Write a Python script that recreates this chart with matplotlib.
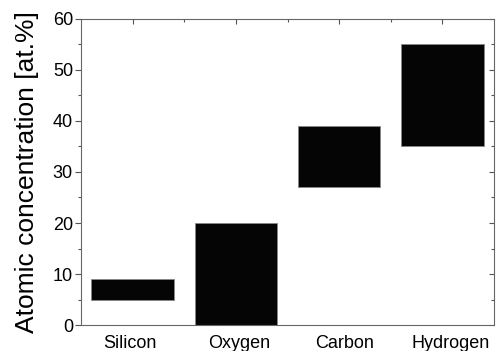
import matplotlib
matplotlib.use("Agg")
import matplotlib.pyplot as plt
import matplotlib.transforms as mtransforms
from matplotlib.ticker import MultipleLocator, FixedLocator

plt.rcParams['font.family'] = ['Liberation Sans', 'DejaVu Sans']

categories = ["Silicon", "Oxygen", "Carbon", "Hydrogen"]
low = [5, 0, 27, 35]
high = [9, 20, 39, 55]
label_shift_px = [-3, 3, 5.5, 8.5]

fig = plt.figure(figsize=(4.97, 3.51), dpi=100)
ax = fig.add_axes([0.163, 0.074, 0.831, 0.872])

x = list(range(len(categories)))
heights = [h - l for h, l in zip(high, low)]
ax.bar(x, heights, bottom=low, width=0.8, color="#050505", edgecolor="#888888", linewidth=0.6)

ax.set_xlim(-0.5, 3.5)
ax.set_ylim(0, 60)
ax.set_xticks(x)
ax.set_xticklabels(categories, fontsize=13)
ax.yaxis.set_major_locator(MultipleLocator(10))
ax.yaxis.set_minor_locator(MultipleLocator(5))
ax.xaxis.set_minor_locator(FixedLocator([0.5, 1.5, 2.5]))
ax.tick_params(axis='y', which='major', labelsize=13, direction='out', length=4.3, width=0.8,
               right=True, color='#555555', pad=1.5)
ax.tick_params(axis='y', which='minor', direction='out', length=2.2, width=0.8, right=True, color='#555555')
for t in ax.yaxis.get_major_ticks():
    t.tick2line.set_marker(0)
    t.tick2line.set_markersize(3.6)
for t in ax.yaxis.get_minor_ticks():
    t.tick2line.set_marker(0)
    t.tick2line.set_markersize(2)
ax.tick_params(axis='x', which='both', bottom=False, top=True, direction='in', length=3.6, width=0.8,
               color='#555555', pad=7)
ax.tick_params(axis='x', which='minor', length=2)
for lbl, dx in zip(ax.get_xticklabels(), label_shift_px):
    lbl.set_transform(lbl.get_transform() + mtransforms.ScaledTranslation(dx / 100, 0, fig.dpi_scale_trans))
ax.set_ylabel("Atomic concentration [at.%]", fontsize=19, labelpad=10)
for s in ax.spines.values():
    s.set_color('#666666')
    s.set_linewidth(0.8)

fig.savefig("out.png", dpi=100)
